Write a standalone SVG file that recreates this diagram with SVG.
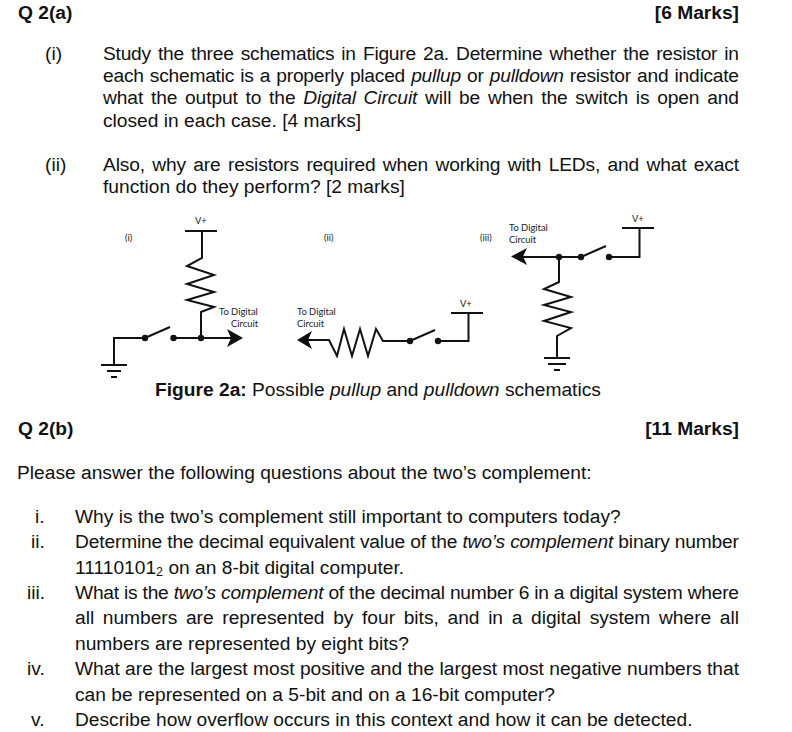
<svg xmlns="http://www.w3.org/2000/svg" width="792" height="732" viewBox="0 0 792 732">
<style>
text{font-family:"Liberation Sans",Arial,sans-serif;font-size:19.2px;fill:#111}
.b{font-weight:700;font-size:19.2px}
.i{font-style:italic}
.s{font-family:Lato,"Open Sans",sans-serif;font-size:9.4px;fill:#222}
.w{fill:none;stroke:#111;stroke-width:2;stroke-linejoin:miter}
.d{fill:#111}
</style>
<rect width="792" height="732" fill="#fff"/>
<g id="text">
<text class="b" x="18" y="19">Q 2(a)</text>
<text class="b" x="739" y="19" text-anchor="end">[6 Marks]</text>
<text x="45" y="60">(i)</text>
<text x="103" y="60" textLength="636" word-spacing="2">Study the three schematics in Figure 2a. Determine whether the resistor in</text>
<text x="103" y="82" textLength="636" word-spacing="1">each schematic is a properly placed <tspan class="i">pullup</tspan> or <tspan class="i">pulldown</tspan> resistor and indicate</text>
<text x="103" y="104" textLength="636" word-spacing="2.500">what the output to the <tspan class="i">Digital Circuit</tspan> will be when the switch is open and</text>
<text x="103" y="127">closed in each case. [4 marks]</text>
<text x="45" y="171">(ii)</text>
<text x="103" y="171" textLength="636" word-spacing="2.300">Also, why are resistors required when working with LEDs, and what exact</text>
<text x="103" y="193">function do they perform? [2 marks]</text>
<text x="155" y="396"><tspan font-weight="700">Figure 2a:</tspan> Possible <tspan class="i">pullup</tspan> and <tspan class="i">pulldown</tspan> schematics</text>
<text class="b" x="18" y="435">Q 2(b)</text>
<text class="b" x="739" y="435" text-anchor="end">[11 Marks]</text>
<text x="17" y="479">Please answer the following questions about the two’s complement:</text>
<text x="35" y="523">i.</text>
<text x="75" y="523">Why is the two’s complement still important to computers today?</text>
<text x="31" y="548">ii.</text>
<text x="75" y="548" textLength="664">Determine the decimal equivalent value of the <tspan class="i">two’s complement</tspan> binary number</text>
<text x="75" y="574">11110101<tspan font-size="12.500" dy="2">2</tspan><tspan dy="-2"> on an 8-bit digital computer.</tspan></text>
<text x="27" y="599">iii.</text>
<text x="75" y="599" textLength="664">What is the <tspan class="i">two’s complement</tspan> of the decimal number 6 in a digital system where</text>
<text x="75" y="624" textLength="664" word-spacing="3.400">all numbers are represented by four bits, and in a digital system where all</text>
<text x="75" y="650">numbers are represented by eight bits?</text>
<text x="27" y="675">iv.</text>
<text x="75" y="675" textLength="664">What are the largest most positive and the largest most negative numbers that</text>
<text x="75" y="701">can be represented on a 5-bit and on a 16-bit computer?</text>
<text x="31" y="726">v.</text>
<text x="75" y="726">Describe how overflow occurs in this context and how it can be detected.</text>
</g>
<g id="schematic-i">
<path class="w" d="M185 231H217M202 231V258L187 266L214 275L187 284L214 292L187 300L214 307L201 312V338M114 365V338H145L170 327M173 338H232M101 365H127M107 371H121M111 377H117"/>
<circle class="d" cx="145" cy="338" r="3.200"/><circle class="d" cx="173.500" cy="338" r="3.200"/><circle class="d" cx="201" cy="338" r="3.200"/>
<path class="d" d="M243 338L227 329L231 338L227 347Z"/>
<text class="s" x="125" y="241">(i)</text><text class="s" x="195" y="224">V+</text>
<text class="s" x="219" y="315">To Digital</text><text class="s" x="231" y="327">Circuit</text>
</g>
<g id="schematic-ii">
<path class="w" d="M308 340H329L337 356L344 329L352 356L360 329L368 356L376 329L383 341H410L435 330M438 341H468.500V313M451 313H483"/>
<circle class="d" cx="410" cy="341" r="3.200"/><circle class="d" cx="438" cy="341" r="3.200"/>
<path class="d" d="M297 340L312 331L308 340L312 349Z"/>
<text class="s" x="324" y="241">(ii)</text><text class="s" x="460" y="307">V+</text>
<text class="s" x="297" y="315">To Digital</text><text class="s" x="297" y="327">Circuit</text>
</g>
<g id="schematic-iii">
<path class="w" d="M622 228H654M639.500 228V257H609M606 246L581 257M581 257H523M559 257V282L544 289L571 297L544 305L571 312L544 321L571 328L557 336V358M544 358H570M548 364H566M554 370H560"/>
<circle class="d" cx="609" cy="257" r="3.200"/><circle class="d" cx="581" cy="257" r="3.200"/><circle class="d" cx="559" cy="257" r="3.200"/>
<path class="d" d="M511 256.500L527 248L523 256.500L527 265Z"/>
<text class="s" x="480" y="241">(iii)</text><text class="s" x="632" y="222">V+</text>
<text class="s" x="509" y="231">To Digital</text><text class="s" x="509" y="243">Circuit</text>
</g>
</svg>
